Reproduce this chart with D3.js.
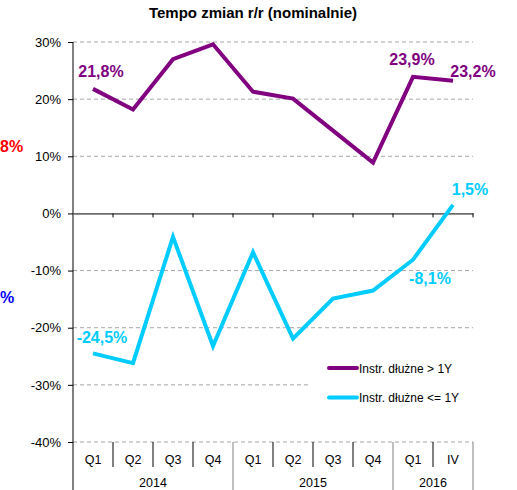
<!DOCTYPE html>
<html><head><meta charset="utf-8">
<script src="https://cdn.jsdelivr.net/npm/d3@7"></script>
<style>body{margin:0;background:#fff}svg{display:block;font-family:"Liberation Sans",Arial,sans-serif}</style>
</head><body><svg id="c" width="517" height="490"></svg>
<script>
const quarters = ["Q1","Q2","Q3","Q4","Q1","Q2","Q3","Q4","Q1","IV"];
const years = ["2014","2015","2016"];
const yearSpans = [4,4,2];
const seriesNames = ["Instr. dłużne > 1Y","Instr. dłużne <= 1Y"];
const longValues = [21.8,18.2,27.0,29.6,21.3,20.1,14.5,8.9,23.9,23.2];
const shortValues = [-24.5,-26.2,-4.1,-23.2,-6.8,-21.9,-14.9,-13.5,-8.1,1.5];
const yTicks = [-40,-30,-20,-10,0,10,20,30];
const title = "Tempo zmian r/r (nominalnie)";
const edgeLabels = ["8%","%"];

const svg = d3.select("#c");
const L=73, R=473, T=42, B=442;
const x = d3.scaleBand().domain(d3.range(quarters.length)).range([L,R]);
const y = d3.scaleLinear().domain([-40,30]).range([B,T]);
const cx = i => x(i)+x.bandwidth()/2;
const purple="#800080", cyan="#00CCFF";
const loc = d3.formatLocale({decimal:",",thousands:" ",grouping:[3],currency:["","zł"],minus:"-"});

// title
svg.append("text").attr("x",253).attr("y",18).attr("text-anchor","middle")
  .attr("font-weight","bold").attr("font-size",15).text(title);

// labels of neighbouring chart at left edge
svg.append("text").attr("x",0).attr("y",152).attr("font-weight","bold")
  .attr("font-size",16).attr("fill","#FF0000").text(edgeLabels[0]);
svg.append("text").attr("x",0).attr("y",303).attr("font-weight","bold")
  .attr("font-size",16).attr("fill","#0000FF").text(edgeLabels[1]);

// gridlines
svg.append("g").selectAll("line").data(yTicks.filter(d=>d!==0)).join("line")
  .attr("x1",L).attr("x2",R).attr("y1",d=>y(d)).attr("y2",d=>y(d))
  .attr("stroke","#A6A6A6").attr("stroke-dasharray","4,3").attr("stroke-width",1);

// y axis
const ya = svg.append("g").attr("transform",`translate(${L},0)`)
  .call(d3.axisLeft(y).tickValues(yTicks).tickFormat(d=>loc.format("d")(d)+"%").tickSize(5).tickPadding(7));
ya.select(".domain").remove();
ya.selectAll("text").attr("font-size",13).attr("fill","#000").attr("font-family","'Liberation Sans',Arial,sans-serif");
ya.selectAll("line").attr("stroke","#000");
svg.append("line").attr("x1",L).attr("x2",L).attr("y1",T).attr("y2",490).attr("stroke","#000");

// zero line with ticks
const za = svg.append("g").attr("transform",`translate(0,${y(0)})`)
  .call(d3.axisBottom(x).tickValues([]).tickSizeOuter(0));
za.select(".domain").attr("stroke","#000");
svg.append("g").selectAll("line").data(d3.range(1,quarters.length+1)).join("line")
  .attr("x1",i=>L+i*x.bandwidth()).attr("x2",i=>L+i*x.bandwidth())
  .attr("y1",y(0)).attr("y2",y(0)+4).attr("stroke","#000");

// category separators
let yb=[0]; yearSpans.forEach(s=>yb.push(yb[yb.length-1]+s));
const sep = svg.append("g");
d3.range(1,quarters.length+1).forEach(i=>{
  const isYear = yb.includes(i);
  sep.append("line").attr("x1",L+i*x.bandwidth()).attr("x2",L+i*x.bandwidth())
    .attr("y1",B).attr("y2",isYear?490:467).attr("stroke",isYear?"#808080":"#000");
});
svg.append("g").selectAll("text").data(quarters).join("text")
  .attr("x",(d,i)=>cx(i)).attr("y",464).attr("text-anchor","middle").attr("font-size",12.5).text(d=>d);
svg.append("g").selectAll("text").data(years).join("text")
  .attr("x",(d,i)=>L+(yb[i]+yb[i+1])/2*x.bandwidth()).attr("y",487)
  .attr("text-anchor","middle").attr("font-size",12.5).text(d=>d);

// legend background
svg.append("rect").attr("x",310).attr("y",350).attr("width",195).attr("height",62).attr("fill","#fff");

// lines
const line = d3.line().x((d,i)=>cx(i)).y(d=>y(d));
svg.append("path").datum(longValues).attr("d",line).attr("fill","none")
  .attr("stroke",purple).attr("stroke-width",4).attr("stroke-linejoin","miter");
svg.append("path").datum(shortValues).attr("d",line).attr("fill","none")
  .attr("stroke",cyan).attr("stroke-width",4).attr("stroke-linejoin","miter");

// data labels
const fmt = v => loc.format(".1f")(v)+"%";
const labels = [
  {s:longValues,i:0,dx:8,dy:-12,c:purple},
  {s:longValues,i:8,dx:-1,dy:-12,c:purple},
  {s:longValues,i:9,dx:20,dy:-4,c:purple},
  {s:shortValues,i:0,dx:9,dy:-10,c:cyan},
  {s:shortValues,i:8,dx:17,dy:24,c:cyan},
  {s:shortValues,i:9,dx:17,dy:-10,c:cyan}
];
svg.append("g").selectAll("text").data(labels).join("text")
  .attr("x",d=>cx(d.i)+d.dx).attr("y",d=>y(d.s[d.i])+d.dy).attr("text-anchor","middle")
  .attr("font-weight","bold").attr("font-size",16).attr("fill",d=>d.c).text(d=>fmt(d.s[d.i]));

// legend
const lg = svg.append("g");
[purple,cyan].forEach((c,k)=>{
  const ly = 368 + k*29.5;
  lg.append("line").attr("x1",329).attr("x2",357).attr("y1",ly).attr("y2",ly)
    .attr("stroke",c).attr("stroke-width",4).attr("stroke-linecap","round");
  lg.append("text").attr("x",359).attr("y",ly+4.5).attr("font-size",12).text(seriesNames[k]);
});
</script></body></html>
